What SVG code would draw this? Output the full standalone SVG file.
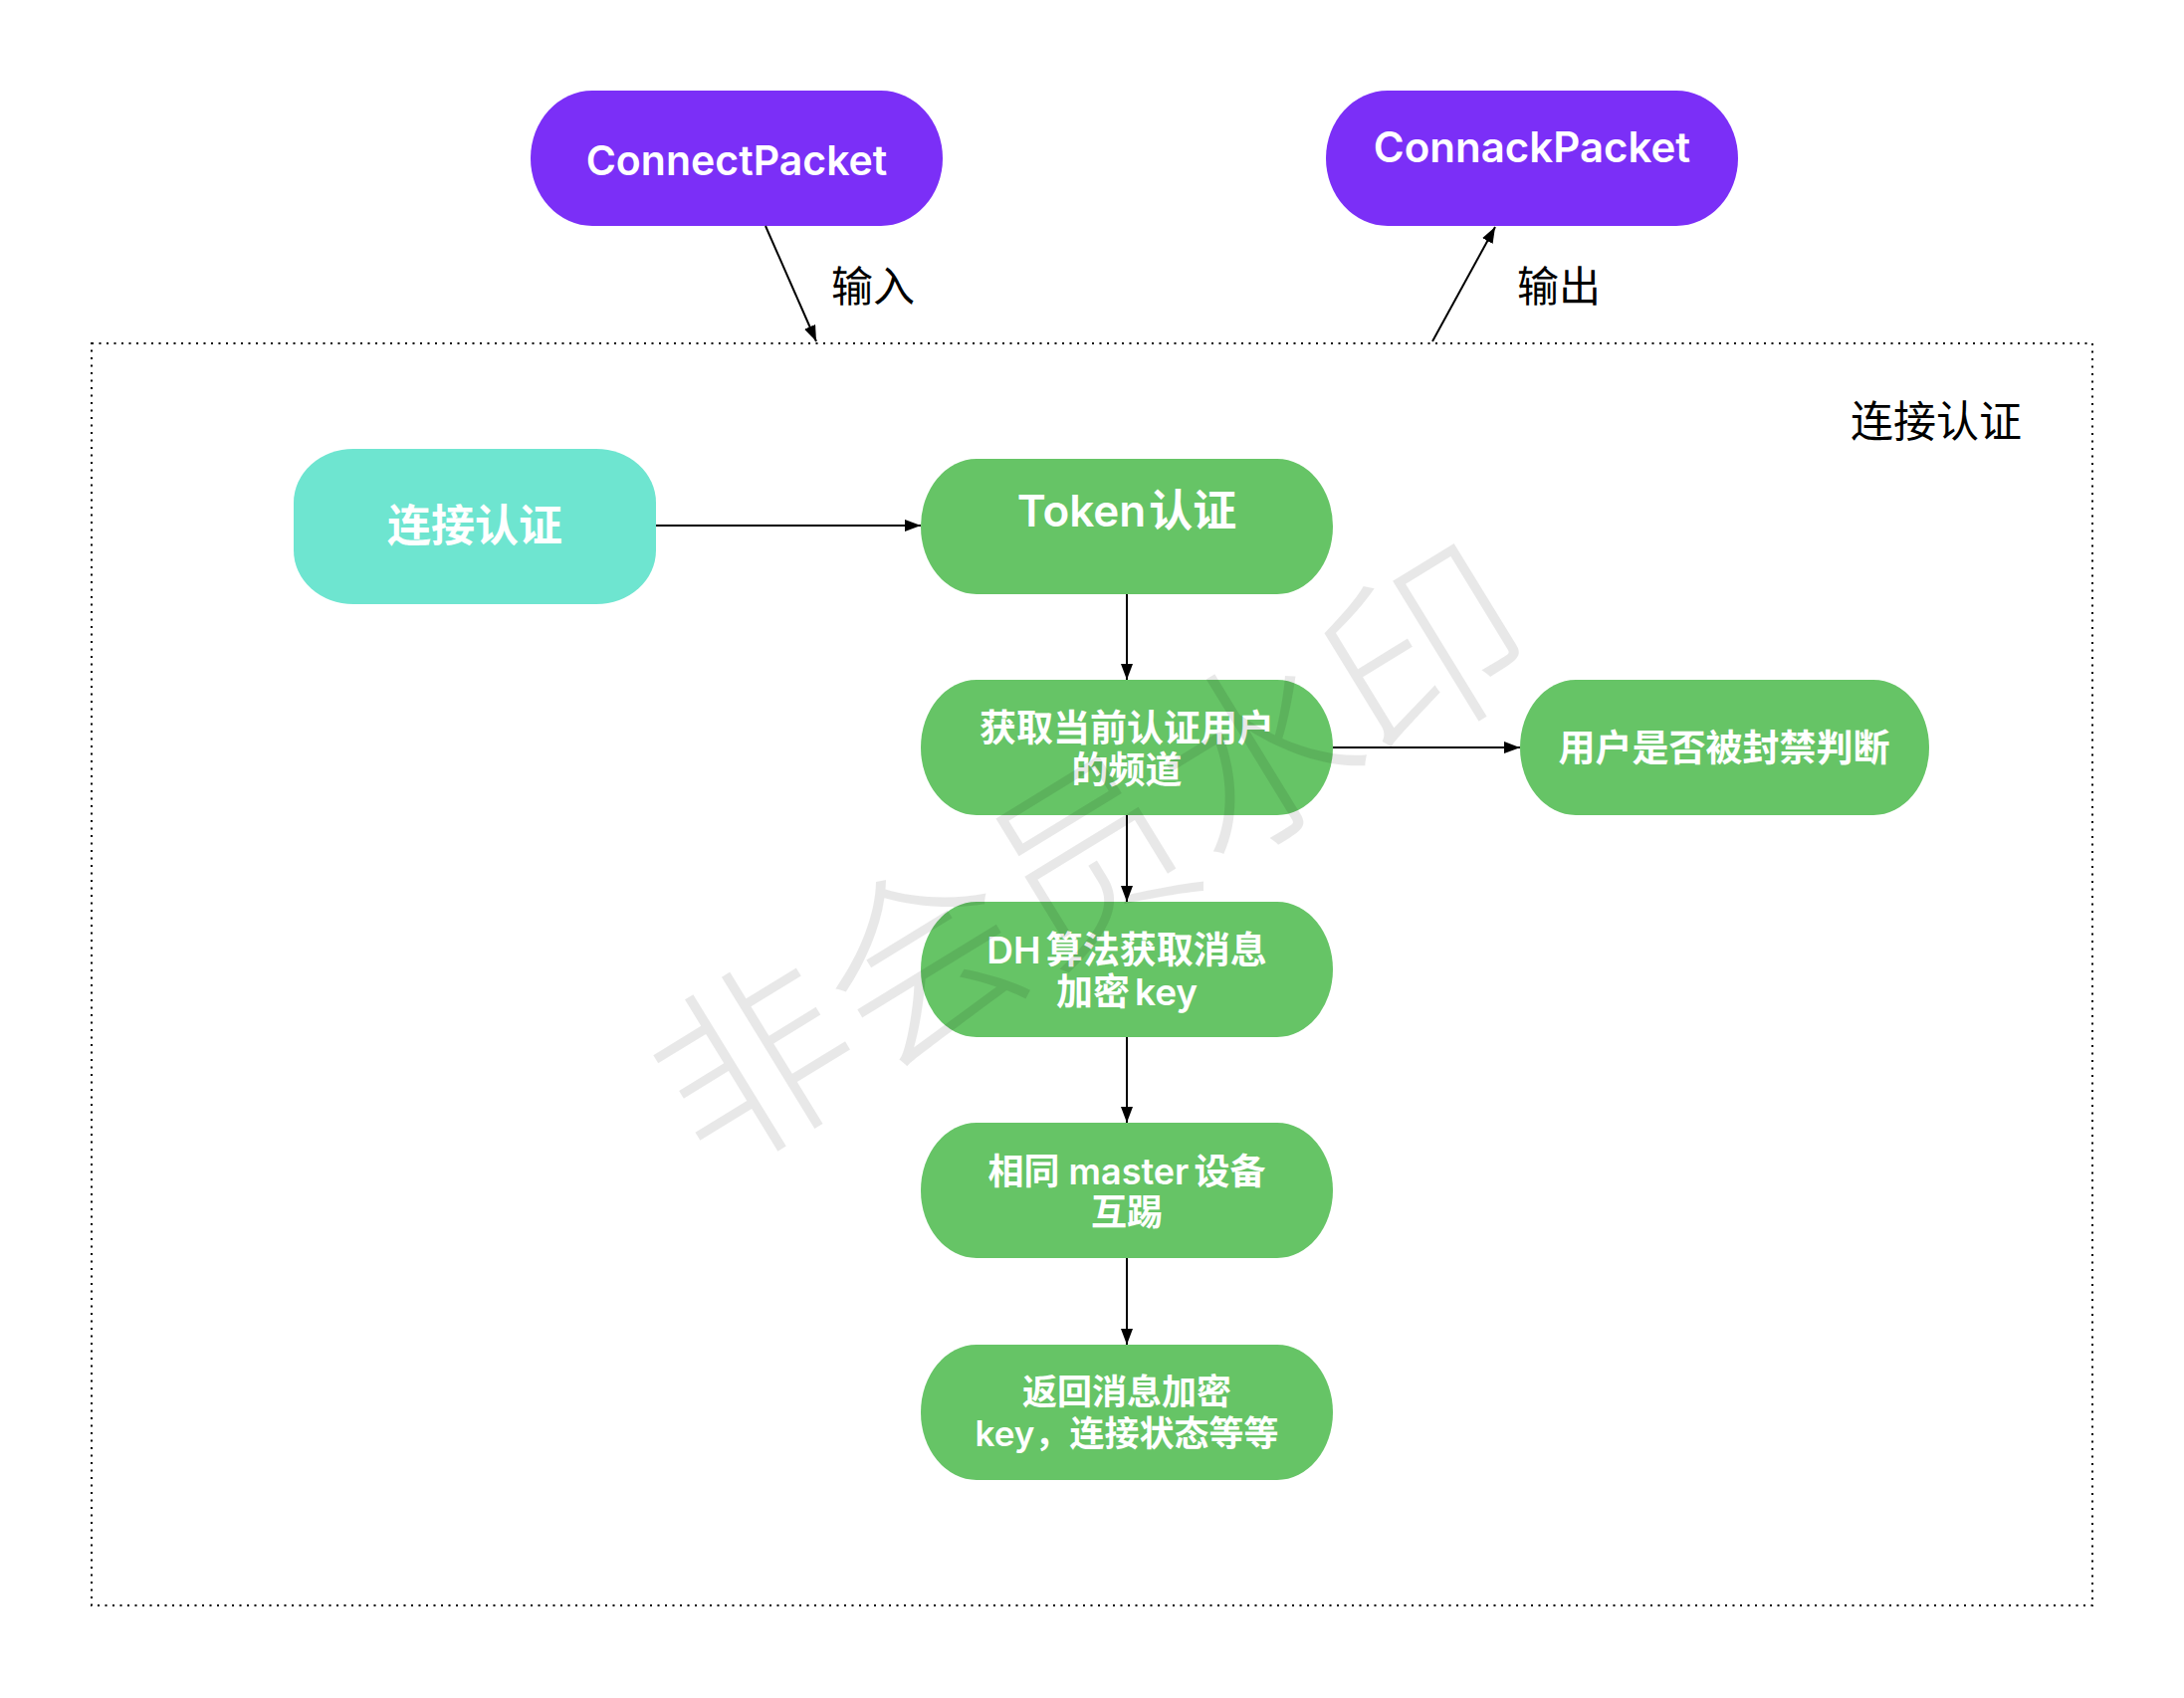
<svg xmlns="http://www.w3.org/2000/svg" width="2194" height="1706" viewBox="0 0 2194 1706">
  <style>
    .pkt { fill: #7B2FF7; }
    .start { fill: #6EE5D0; }
    .step { fill: #66C466; }
    .lbl { fill: #ffffff; font-family: Inter, "Noto Sans CJK SC", sans-serif; font-weight: 600; text-anchor: middle; }
    .cap { fill: #000000; font-family: "Noto Sans CJK SC", sans-serif; font-weight: 400; text-anchor: middle; }
    .conn line { stroke: #000000; stroke-width: 2; fill: none; marker-end: url(#arrow); }
    .frame { fill: none; stroke: #000000; stroke-width: 2; stroke-dasharray: 2 5.5; }
    .mark { fill: #000000; fill-opacity: 0.09; font-family: "Noto Sans CJK SC", sans-serif; font-weight: 300; text-anchor: middle; dominant-baseline: central; }
  </style>
  <defs>
    <marker id="arrow" markerUnits="userSpaceOnUse" markerWidth="16" markerHeight="12" refX="16" refY="6" orient="auto">
      <path d="M0,0 L16,6 L0,12 z" fill="#000000"/>
    </marker>
  </defs>

  <rect width="2194" height="1706" fill="#ffffff"/>

  <!-- dotted boundary of the connection-auth stage -->
  <g id="frame">
    <rect class="frame" x="92" y="345" width="2010" height="1268"/>
    <text class="cap" x="1945" y="439" font-size="43">连接认证</text>
  </g>

  <g id="connect-packet">
    <rect class="pkt" x="533" y="91" width="414" height="136" rx="62" ry="68"/>
    <text class="lbl" x="740" y="176" font-size="41">ConnectPacket</text>
  </g>

  <g id="connack-packet">
    <rect class="pkt" x="1332" y="91" width="414" height="136" rx="62" ry="68"/>
    <text class="lbl" x="1539" y="163" font-size="42">ConnackPacket</text>
  </g>

  <g id="start">
    <rect class="start" x="295" y="451" width="364" height="156" rx="60" ry="54"/>
    <text class="lbl" x="477" y="544" font-size="44">连接认证</text>
  </g>

  <g id="token">
    <rect class="step" x="925" y="461" width="414" height="136" rx="56" ry="68"/>
    <text class="lbl" x="1132" y="529" font-size="44">Token<tspan dx="3">认证</tspan></text>
  </g>

  <g id="channel">
    <rect class="step" x="925" y="683" width="414" height="136" rx="56" ry="68"/>
    <text class="lbl" x="1132" y="745" font-size="37">获取当前认证用户</text>
    <text class="lbl" x="1132" y="787" font-size="37">的频道</text>
  </g>

  <g id="ban-check">
    <rect class="step" x="1527" y="683" width="411" height="136" rx="56" ry="68"/>
    <text class="lbl" x="1732" y="765" font-size="37">用户是否被封禁判断</text>
  </g>

  <g id="dh-key">
    <rect class="step" x="925" y="906" width="414" height="136" rx="56" ry="68"/>
    <text class="lbl" x="1132" y="968" font-size="37">DH<tspan dx="5">算法获取消息</tspan></text>
    <text class="lbl" x="1132" y="1010" font-size="37">加密<tspan dx="5">key</tspan></text>
  </g>

  <g id="kick">
    <rect class="step" x="925" y="1128" width="414" height="136" rx="56" ry="68"/>
    <text class="lbl" x="1132" y="1190" font-size="36">相同 master<tspan dx="5">设备</tspan></text>
    <text class="lbl" x="1132" y="1231" font-size="36">互踢</text>
  </g>

  <g id="reply">
    <rect class="step" x="925" y="1351" width="414" height="136" rx="56" ry="68"/>
    <text class="lbl" x="1132" y="1411" font-size="35">返回消息加密</text>
    <text class="lbl" x="1132" y="1453" font-size="35">key，连接状态等等</text>
  </g>

  <g id="connectors" class="conn">
    <line x1="769" y1="227" x2="820" y2="343"/>
    <line x1="1439" y1="343" x2="1502" y2="228"/>
    <line x1="659" y1="528" x2="925" y2="528"/>
    <line x1="1132" y1="597" x2="1132" y2="683"/>
    <line x1="1339" y1="751" x2="1527" y2="751"/>
    <line x1="1132" y1="819" x2="1132" y2="906"/>
    <line x1="1132" y1="1042" x2="1132" y2="1128"/>
    <line x1="1132" y1="1264" x2="1132" y2="1351"/>
  </g>

  <g id="edge-labels">
    <text class="cap" x="877" y="303" font-size="42">输入</text>
    <text class="cap" x="1566" y="303" font-size="42">输出</text>
  </g>

  <!-- faint diagonal watermark over everything -->
  <text class="mark" x="1088" y="850" font-size="198" transform="rotate(-31.5 1088 850)">非会员水印</text>
</svg>
